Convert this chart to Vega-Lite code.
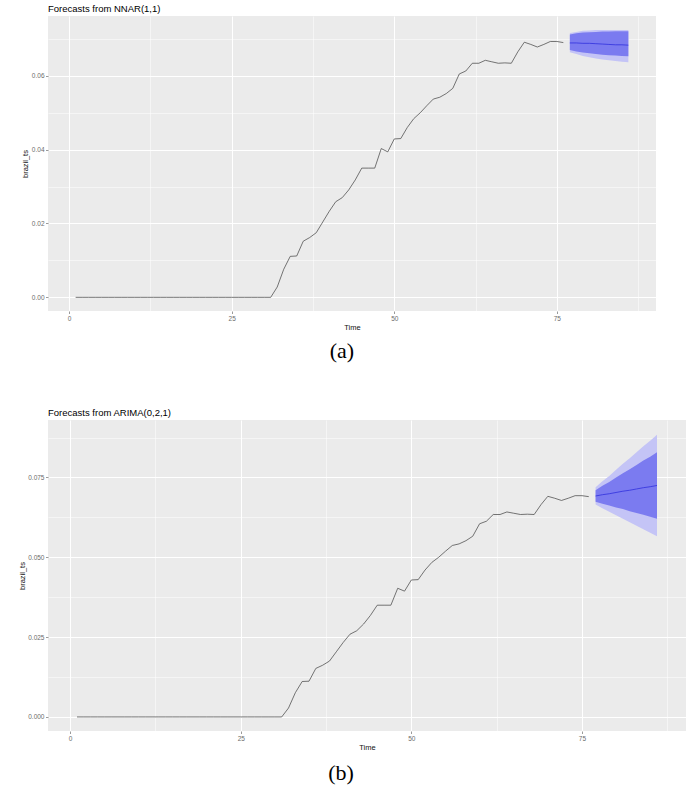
{
 "$schema": "https://vega.github.io/schema/vega-lite/v6.json",
 "background": "white",
 "padding": {"left": 18, "top": 3, "right": 5, "bottom": 2},
 "columns": 1,
 "align": "none",
 "spacing": 45,
 "config": {
  "view": {"fill": "#EBEBEB", "stroke": null},
  "axis": {"domain": false, "gridColor": "#FFFFFF", "tickColor": "#555555", "tickSize": 2.5, "tickWidth": 0.6, "labelColor": "#6b6b6b", "labelFontSize": 6.5, "labelFont": "Liberation Sans", "titleFont": "Liberation Sans", "titleFontSize": 7.5, "titleFontWeight": "normal", "titleColor": "#111111", "labelPadding": 1.5, "titlePadding": 1.5}
 },
 "datasets": {
  "hist": [
   {"t":1,"value":0},{"t":2,"value":0},{"t":3,"value":0},{"t":4,"value":0},{"t":5,"value":0},{"t":6,"value":0},{"t":7,"value":0},{"t":8,"value":0},{"t":9,"value":0},{"t":10,"value":0},
   {"t":11,"value":0},{"t":12,"value":0},{"t":13,"value":0},{"t":14,"value":0},{"t":15,"value":0},{"t":16,"value":0},{"t":17,"value":0},{"t":18,"value":0},{"t":19,"value":0},{"t":20,"value":0},
   {"t":21,"value":0},{"t":22,"value":0},{"t":23,"value":0},{"t":24,"value":0},{"t":25,"value":0},{"t":26,"value":0},{"t":27,"value":0},{"t":28,"value":0},{"t":29,"value":0},{"t":30,"value":0},
   {"t":31,"value":0},{"t":32,"value":0.0028},{"t":33,"value":0.0076},{"t":34,"value":0.0111},{"t":35,"value":0.0112},{"t":36,"value":0.0152},{"t":37,"value":0.0162},{"t":38,"value":0.0175},{"t":39,"value":0.0204},{"t":40,"value":0.0233},
   {"t":41,"value":0.0259},{"t":42,"value":0.0270},{"t":43,"value":0.0291},{"t":44,"value":0.0318},{"t":45,"value":0.0350},{"t":46,"value":0.0350},{"t":47,"value":0.0350},{"t":48,"value":0.0403},{"t":49,"value":0.0394},{"t":50,"value":0.0429},
   {"t":51,"value":0.0430},{"t":52,"value":0.0460},{"t":53,"value":0.0484},{"t":54,"value":0.0500},{"t":55,"value":0.0519},{"t":56,"value":0.0537},{"t":57,"value":0.0542},{"t":58,"value":0.0552},{"t":59,"value":0.0566},{"t":60,"value":0.0605},
   {"t":61,"value":0.0613},{"t":62,"value":0.0634},{"t":63,"value":0.0634},{"t":64,"value":0.0642},{"t":65,"value":0.0638},{"t":66,"value":0.0634},{"t":67,"value":0.0635},{"t":68,"value":0.0634},{"t":69,"value":0.0665},{"t":70,"value":0.0691},
   {"t":71,"value":0.0685},{"t":72,"value":0.0678},{"t":73,"value":0.0685},{"t":74,"value":0.0693},{"t":75,"value":0.0693},{"t":76,"value":0.0690}
  ],
  "fa": [
   {"t":77,"mean":0.0689,"lo80":0.0670,"hi80":0.0712,"lo95":0.0664,"hi95":0.0716},
   {"t":78,"mean":0.0689,"lo80":0.0666,"hi80":0.0715,"lo95":0.0659,"hi95":0.0719},
   {"t":79,"mean":0.0688,"lo80":0.0663,"hi80":0.0717,"lo95":0.0654,"hi95":0.0722},
   {"t":80,"mean":0.0688,"lo80":0.0661,"hi80":0.0718,"lo95":0.0650,"hi95":0.0723},
   {"t":81,"mean":0.0687,"lo80":0.0659,"hi80":0.0719,"lo95":0.0647,"hi95":0.0724},
   {"t":82,"mean":0.0686,"lo80":0.0657,"hi80":0.0720,"lo95":0.0644,"hi95":0.0724},
   {"t":83,"mean":0.0685,"lo80":0.0656,"hi80":0.0720,"lo95":0.0642,"hi95":0.0724},
   {"t":84,"mean":0.0684,"lo80":0.0655,"hi80":0.0721,"lo95":0.0640,"hi95":0.0724},
   {"t":85,"mean":0.0684,"lo80":0.0654,"hi80":0.0721,"lo95":0.0638,"hi95":0.0724},
   {"t":86,"mean":0.0683,"lo80":0.0653,"hi80":0.0721,"lo95":0.0637,"hi95":0.0724}
  ],
  "fb": [
   {"t":77,"mean":0.0692,"lo80":0.0674,"hi80":0.0710,"lo95":0.0665,"hi95":0.0719},
   {"t":78,"mean":0.0696,"lo80":0.0668,"hi80":0.0724,"lo95":0.0654,"hi95":0.0738},
   {"t":79,"mean":0.0699,"lo80":0.0662,"hi80":0.0736,"lo95":0.0643,"hi95":0.0755},
   {"t":80,"mean":0.0703,"lo80":0.0656,"hi80":0.0750,"lo95":0.0632,"hi95":0.0774},
   {"t":81,"mean":0.0707,"lo80":0.0651,"hi80":0.0763,"lo95":0.0621,"hi95":0.0793},
   {"t":82,"mean":0.0710,"lo80":0.0644,"hi80":0.0776,"lo95":0.0610,"hi95":0.0810},
   {"t":83,"mean":0.0714,"lo80":0.0639,"hi80":0.0789,"lo95":0.0599,"hi95":0.0829},
   {"t":84,"mean":0.0718,"lo80":0.0633,"hi80":0.0803,"lo95":0.0588,"hi95":0.0848},
   {"t":85,"mean":0.0721,"lo80":0.0627,"hi80":0.0815,"lo95":0.0577,"hi95":0.0865},
   {"t":86,"mean":0.0725,"lo80":0.0621,"hi80":0.0829,"lo95":0.0566,"hi95":0.0884}
  ]
 },
 "concat": [
  {
   "title": {"text": "(a)", "orient": "bottom", "anchor": "middle", "font": "Liberation Serif", "fontSize": 22, "fontWeight": "normal", "color": "#000000", "offset": 10, "dx": 3},
   "vconcat": [
    {
     "title": {"text": "Forecasts from NNAR(1,1)", "anchor": "start", "frame": "group", "font": "Liberation Sans", "fontSize": 9.5, "fontWeight": "normal", "color": "#000000", "offset": 3},
     "width": 608,
     "height": 295,
     "resolve": {"axis": {"x": "independent", "y": "independent"}},
     "layer": [
      {"data": {"name": "hist"}, "mark": {"type": "line", "color": "#3d3d3d", "strokeWidth": 0.7},
       "encoding": {
        "x": {"field": "t", "type": "quantitative", "scale": {"domain": [-3.25, 90.25], "nice": false, "zero": false}, "axis": {"orient": "bottom", "values": [12.5, 37.5, 62.5, 87.5], "grid": true, "gridWidth": 0.5, "labels": false, "ticks": false, "title": null}},
        "y": {"field": "value", "type": "quantitative", "scale": {"domain": [-0.0037, 0.0762], "nice": false, "zero": false}, "axis": {"orient": "left", "values": [0.01, 0.03, 0.05, 0.07], "grid": true, "gridWidth": 0.5, "labels": false, "ticks": false, "title": null}}
       }},
      {"data": {"name": "fa"}, "mark": {"type": "area", "color": "#C4C4F6", "opacity": 1},
       "encoding": {
        "x": {"field": "t", "type": "quantitative", "scale": {"domain": [-3.25, 90.25], "nice": false, "zero": false}, "axis": {"orient": "bottom", "values": [0, 25, 50, 75], "grid": true, "gridWidth": 1, "title": "Time"}},
        "y": {"field": "lo95", "type": "quantitative", "scale": {"domain": [-0.0037, 0.0762], "nice": false, "zero": false}, "axis": {"orient": "left", "values": [0, 0.02, 0.04, 0.06], "format": ".2f", "grid": true, "gridWidth": 1, "title": "brazil_ts"}},
        "y2": {"field": "hi95"}
       }},
      {"data": {"name": "fa"}, "mark": {"type": "area", "color": "#7B7BF0", "opacity": 1},
       "encoding": {
        "x": {"field": "t", "type": "quantitative", "scale": {"domain": [-3.25, 90.25], "nice": false, "zero": false}, "axis": null},
        "y": {"field": "lo80", "type": "quantitative", "scale": {"domain": [-0.0037, 0.0762], "nice": false, "zero": false}, "axis": null},
        "y2": {"field": "hi80"}
       }},
      {"data": {"name": "fa"}, "mark": {"type": "line", "color": "#3030DD", "strokeWidth": 0.8},
       "encoding": {
        "x": {"field": "t", "type": "quantitative", "scale": {"domain": [-3.25, 90.25], "nice": false, "zero": false}, "axis": null},
        "y": {"field": "mean", "type": "quantitative", "scale": {"domain": [-0.0037, 0.0762], "nice": false, "zero": false}, "axis": null}
       }}
     ]
    }
   ]
  },
  {
   "title": {"text": "(b)", "orient": "bottom", "anchor": "middle", "font": "Liberation Serif", "fontSize": 22, "fontWeight": "normal", "color": "#000000", "offset": 12, "dx": -11},
   "vconcat": [
    {
     "title": {"text": "Forecasts from ARIMA(0,2,1)", "anchor": "start", "frame": "group", "font": "Liberation Sans", "fontSize": 9.5, "fontWeight": "normal", "color": "#000000", "offset": 3},
     "width": 638,
     "height": 311,
     "resolve": {"axis": {"x": "independent", "y": "independent"}},
     "layer": [
      {"data": {"name": "hist"}, "mark": {"type": "line", "color": "#3d3d3d", "strokeWidth": 0.7},
       "encoding": {
        "x": {"field": "t", "type": "quantitative", "scale": {"domain": [-3.25, 90.25], "nice": false, "zero": false}, "axis": {"orient": "bottom", "values": [12.5, 37.5, 62.5, 87.5], "grid": true, "gridWidth": 0.5, "labels": false, "ticks": false, "title": null}},
        "y": {"field": "value", "type": "quantitative", "scale": {"domain": [-0.0044, 0.0930], "nice": false, "zero": false}, "axis": {"orient": "left", "values": [0.0125, 0.0375, 0.0625, 0.0875], "grid": true, "gridWidth": 0.5, "labels": false, "ticks": false, "title": null}}
       }},
      {"data": {"name": "fb"}, "mark": {"type": "area", "color": "#C4C4F6", "opacity": 1},
       "encoding": {
        "x": {"field": "t", "type": "quantitative", "scale": {"domain": [-3.25, 90.25], "nice": false, "zero": false}, "axis": {"orient": "bottom", "values": [0, 25, 50, 75], "grid": true, "gridWidth": 1, "title": "Time"}},
        "y": {"field": "lo95", "type": "quantitative", "scale": {"domain": [-0.0044, 0.0930], "nice": false, "zero": false}, "axis": {"orient": "left", "values": [0, 0.025, 0.05, 0.075], "format": ".3f", "grid": true, "gridWidth": 1, "title": "brazil_ts"}},
        "y2": {"field": "hi95"}
       }},
      {"data": {"name": "fb"}, "mark": {"type": "area", "color": "#7B7BF0", "opacity": 1},
       "encoding": {
        "x": {"field": "t", "type": "quantitative", "scale": {"domain": [-3.25, 90.25], "nice": false, "zero": false}, "axis": null},
        "y": {"field": "lo80", "type": "quantitative", "scale": {"domain": [-0.0044, 0.0930], "nice": false, "zero": false}, "axis": null},
        "y2": {"field": "hi80"}
       }},
      {"data": {"name": "fb"}, "mark": {"type": "line", "color": "#3030DD", "strokeWidth": 0.8},
       "encoding": {
        "x": {"field": "t", "type": "quantitative", "scale": {"domain": [-3.25, 90.25], "nice": false, "zero": false}, "axis": null},
        "y": {"field": "mean", "type": "quantitative", "scale": {"domain": [-0.0044, 0.0930], "nice": false, "zero": false}, "axis": null}
       }}
     ]
    }
   ]
  }
 ]
}
